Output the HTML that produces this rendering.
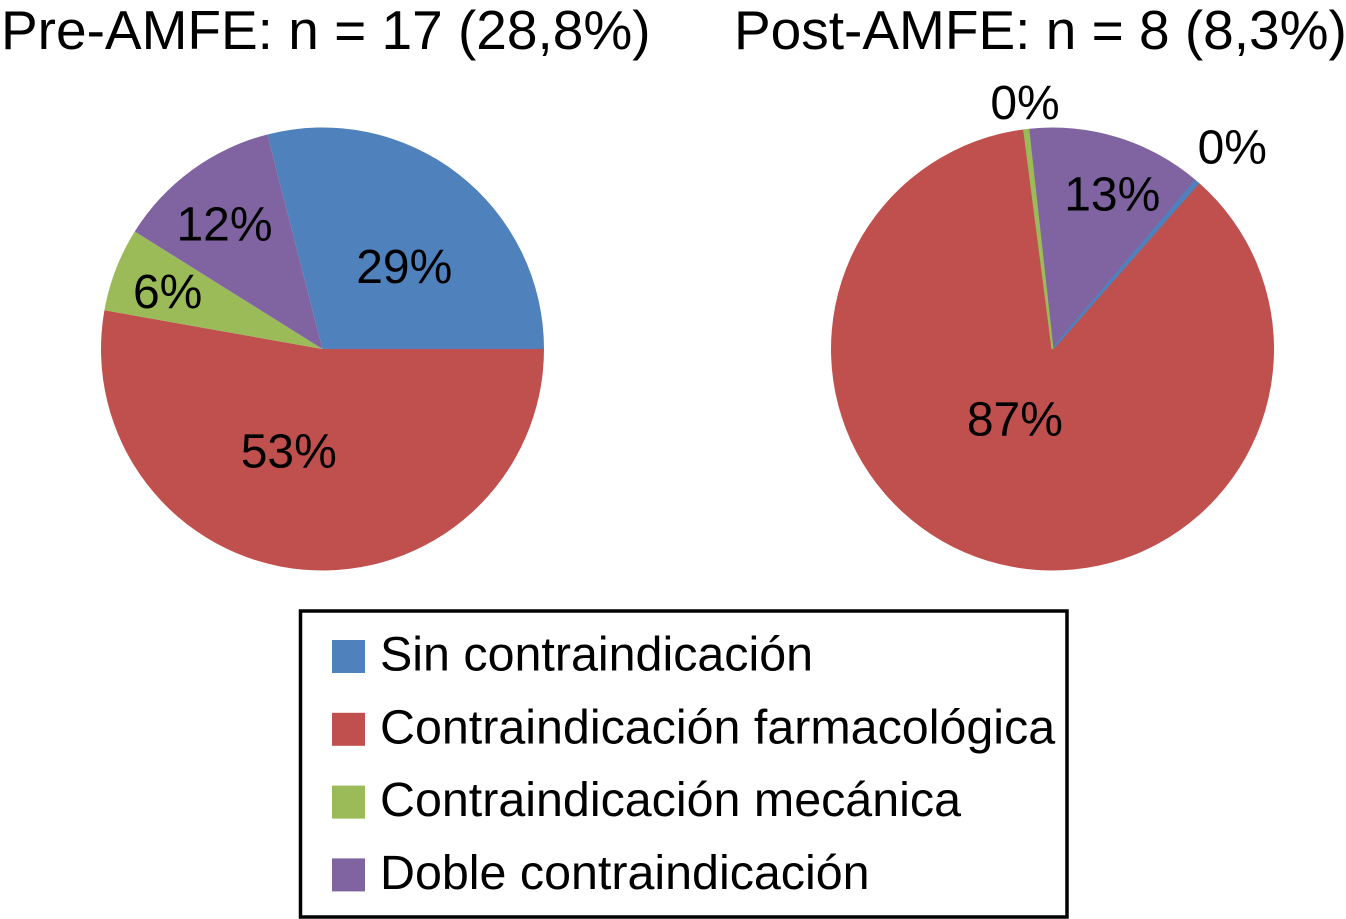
<!DOCTYPE html>
<html lang="es">
<head>
<meta charset="utf-8">
<title>Contraindicaciones Pre-AMFE y Post-AMFE</title>
<style>
  html, body { margin: 0; padding: 0; background: #fff; }
  svg { display: block; font-family: "Liberation Sans", sans-serif; fill: #000; }
</style>
</head>
<body>
<svg id="chart" xmlns="http://www.w3.org/2000/svg" width="1346" height="919" viewBox="0 0 1346 919">
  <rect x="0" y="0" width="1346" height="919" fill="#ffffff"/>
  <text x="1" y="49" font-size="55">Pre-AMFE: n = 17 (28,8%)</text>
  <text x="734" y="49" font-size="55">Post-AMFE: n = 8 (8,3%)</text>
  <g id="pre-pie"></g>
  <g id="post-pie"></g>
  <rect x="300.5" y="611" width="766.5" height="306" fill="#ffffff" stroke="#000000" stroke-width="3.5"/>
  <g id="legend"></g>
</svg>
<script>
// Data
const categories = ["Sin contraindicación", "Contraindicación farmacológica", "Contraindicación mecánica", "Doble contraindicación"];
const preValues = [29, 52.8, 6.1, 12.1];
const postValues = [0.25, 86.7, 0.3, 13];
const preLabels = ["29%", "53%", "6%", "12%"];
const postLabels = ["0%", "87%", "0%", "13%"];

// Styling and layout
const colors = ["#4f81bd", "#c0504d", "#9bbb59", "#8064a2"];
const keys = ["sin-contraindicacion", "farmacologica", "mecanica", "doble"];
const preNudge = [[7, 13.4], [-23, -20], [-41, -14], [-26, -27]];
const postNudge = [[100, -110], [-2, -47], [-13, -126], [24, -39]];
const NS = "http://www.w3.org/2000/svg";
const RADIUS = 221.5;
const LABEL_R = 122;

function point(cx, cy, r, deg) {
  const a = deg * Math.PI / 180;
  return [cx + r * Math.sin(a), cy - r * Math.cos(a)];
}

function drawPie(groupId, prefix, values, labels, nudges, cx, cy, startAngle) {
  const group = document.getElementById(groupId);
  const total = values.reduce(function (s, v) { return s + v; }, 0);
  let angle = startAngle;
  const texts = [];
  const thin = [];
  values.forEach(function (v, i) {
    const sweep = v / total * 360;
    const end = angle + sweep;
    const isThin = sweep < 3;
    const r = isThin ? RADIUS - 1 : RADIUS;
    const p0 = point(cx, cy, r, angle);
    const p1 = point(cx, cy, r, end);
    const large = sweep > 180 ? 1 : 0;
    const slice = document.createElementNS(NS, "path");
    slice.setAttribute("d", "M" + cx + " " + cy + "L" + p0[0] + " " + p0[1] + "A" + r + " " + r + " 0 " + large + " 1 " + p1[0] + " " + p1[1] + "Z");
    slice.setAttribute("fill", colors[i]);
    
    
    if (isThin) {
      // Very small slices keep a visible hairline all the way to the centre.
      slice.setAttribute("stroke", colors[i]);
      slice.setAttribute("stroke-width", "2");
      thin.push(slice);
    } else {
      group.appendChild(slice);
    }

    const c = point(cx, cy, LABEL_R, angle + sweep / 2);
    const label = document.createElementNS(NS, "text");
    label.setAttribute("x", c[0] + nudges[i][0]);
    label.setAttribute("y", c[1] + nudges[i][1] + 17);
    label.setAttribute("text-anchor", "middle");
    label.setAttribute("font-size", "48");
    label.textContent = labels[i];
    
    
    texts.push(label);
    angle = end;
  });
  thin.forEach(function (s) { group.appendChild(s); });
  texts.forEach(function (t) { group.appendChild(t); });
}

function drawLegend() {
  const group = document.getElementById("legend");
  categories.forEach(function (name, i) {
    const rowY = 640 + i * 72.8;
    const swatch = document.createElementNS(NS, "rect");
    swatch.setAttribute("x", 332);
    swatch.setAttribute("y", rowY);
    swatch.setAttribute("width", 33);
    swatch.setAttribute("height", 33);
    swatch.setAttribute("fill", colors[i]);
    
    
    group.appendChild(swatch);

    const text = document.createElementNS(NS, "text");
    text.setAttribute("x", 380);
    text.setAttribute("y", rowY + 30.5);
    text.setAttribute("font-size", "48.4");
    text.textContent = name;
    
    
    group.appendChild(text);
  });
}

drawPie("pre-pie", "pre", preValues, preLabels, preNudge, 322.5, 349, 345.6);
drawPie("post-pie", "post", postValues, postLabels, postNudge, 1052.5, 349, 40.4);
drawLegend();
</script>
</body>
</html>
